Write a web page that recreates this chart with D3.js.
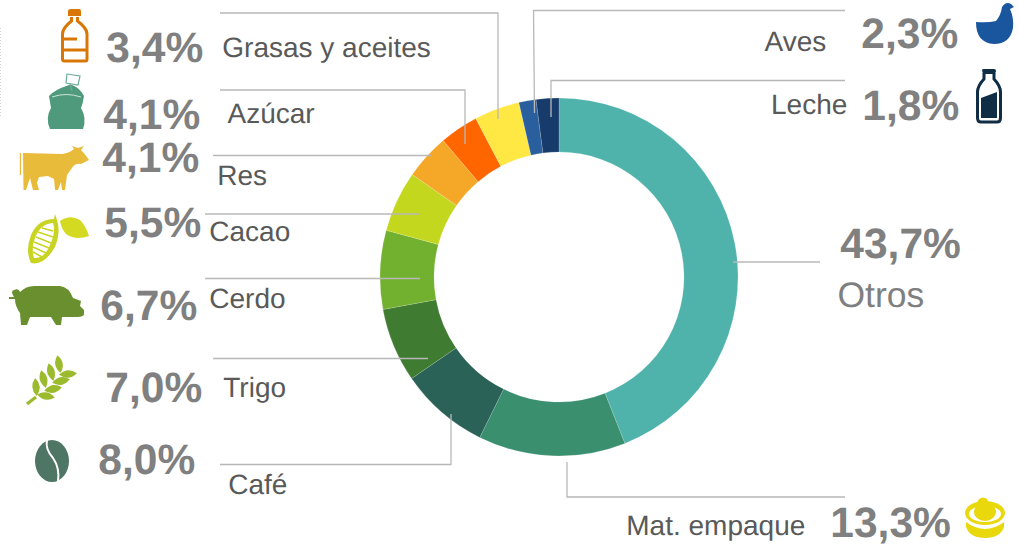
<!DOCTYPE html>
<html>
<head>
<meta charset="utf-8">
<script src="https://cdn.jsdelivr.net/npm/d3@7/dist/d3.min.js"></script>
<style>
html,body{margin:0;padding:0;background:#fff;overflow:hidden}
svg{display:block}
text{font-family:"Liberation Sans",Arial,sans-serif;text-rendering:geometricPrecision}
</style>
</head>
<body>
<svg id="chart" width="1019" height="546"></svg>
<script>
// ---- data ----
const categories = ["Otros","Mat. empaque","Café","Trigo","Cerdo","Cacao","Res","Azúcar","Grasas y aceites","Aves","Leche"];
// the percentages printed in the reference
const printedShares = [43.7,13.3,8.0,7.0,6.7,5.5,4.1,4.1,3.4,2.3,1.8];
// the slice sizes as actually drawn in the reference (measured from its slice boundaries)
const drawnShares = [44.0,13.3,8.1,6.7,7.1,5.5,4.1,3.5,4.1,1.55,2.05];
const palette = ["#4fb3ab","#3a8f6f","#2a6257","#3f7b30","#72b12f","#c4d71f","#f5a828","#ff6600","#ffe844","#2a5f9e","#173c6b"];

// ---- annotation layout (pixel placement only) ----
const nameAnchors  = [[837.5,307],[626.3,535],[228.3,494],[223.3,397],[209.3,308],[209.3,241],[217.3,185],[227.5,123],[222.3,57],[764.5,51],[771,114]];
const shareAnchors = [[840.3,258],[830.3,537],[98.3,474],[105.3,402],[100.3,320],[104.3,237],[102.3,172],[103.3,129],[106.3,62],[861.3,47.5],[862.3,120]];
const leaders = [
  [[733,262],[820,262]],
  [[567,462],[567,497],[845,497]],
  [[451,414],[451,464.5],[220,464.5]],
  [[428,358.5],[213,358.5]],
  [[420,278.5],[205,278.5]],
  [[420,214],[205,214]],
  [[431,155.5],[213,155.5]],
  [[465,144],[465,90],[220,90]],
  [[498,119],[498,13],[220,13]],
  [[534.5,113],[533.5,10.5],[845,10.5]],
  [[551,117],[551,80.5],[845,80.5]]
];

const svg = d3.select("#chart");
const fmt = d3.formatLocale({decimal:",",thousands:".",grouping:[3],currency:["","%"]}).format(".1f");
const color = d3.scaleOrdinal().domain(categories).range(palette);

// faint dotted remnant at the far left edge
svg.append("line").attr("x1",0.5).attr("x2",0.5).attr("y1",28).attr("y2",116)
  .attr("stroke","#d0d0d0").attr("stroke-dasharray","1 2");

// ---- donut ----
const pie = d3.pie().sort(null).value(d=>d.v);
const arc = d3.arc().innerRadius(125).outerRadius(179);
const rows = categories.map((c,i)=>({c,v:drawnShares[i]}));
svg.append("g").attr("transform","translate(559,277)")
  .selectAll("path").data(pie(rows)).join("path")
  .attr("d",arc).attr("fill",d=>color(d.data.c))
  .attr("stroke","#ffffff").attr("stroke-opacity",.25).attr("stroke-width",.6);

// ---- leaders ----
const lineGen = d3.line();
svg.append("g").selectAll("path").data(leaders).join("path")
  .attr("d",lineGen).attr("fill","none").attr("stroke","#b8b8b8").attr("stroke-width",1.3);

// ---- text ----
svg.append("g").selectAll("text").data(categories).join("text")
  .attr("x",(d,i)=>nameAnchors[i][0]).attr("y",(d,i)=>nameAnchors[i][1])
  .attr("font-size",d=>d==="Otros"?35.5:28)
  .attr("fill",d=>d==="Otros"?"#7f7f7f":"#595959")
  .text(d=>d);
svg.append("g").selectAll("text").data(printedShares).join("text")
  .attr("x",(d,i)=>shareAnchors[i][0]).attr("y",(d,i)=>shareAnchors[i][1])
  .attr("font-size",42.5).attr("font-weight",700).attr("fill","#808080")
  .text(d=>fmt(d)+"%");

// ---- pictograms ----
const ic = svg.append("g");
// bottle
ic.append("path").attr("d","M71.5 17 L71.5 21 Q62.5 28 62.5 34 L62.5 59 Q62.5 61 64.5 61 L85.5 61 Q87 61 87 59 L87 34 Q87 28 77.5 21 L77.5 17 M62 39 L77 39 M62 50 L87 50")
  .attr("fill","none").attr("stroke","#d97706").attr("stroke-width",3);
ic.append("path").attr("d","M68 16 L68 11 Q68 9 71 9 L79 9 Q81 9 81 11 L81 16 Z").attr("fill","#d97706");
// sack
ic.append("path").attr("d","M49 96 Q54 90 69 85 L72 85 Q80 88 84 96 Q83 103 81 108 Q87 118 83 129 L50 129 Q45 118 51 108 Q50 102 49 96 Z").attr("fill","#4f9a7d");
ic.append("path").attr("d","M52 97 Q66 92 81 97").attr("fill","none").attr("stroke","#cfe4da").attr("stroke-width",1);
ic.append("path").attr("d","M67 74 L80 76 L78 85 L66 83 Z M70 84 L72 91").attr("fill","#fff").attr("stroke","#6fae96").attr("stroke-width",1.2);
// cow
ic.append("path").attr("d","M23 153 L62 154 Q70 153 74 149 L72 146 L78 148 L84 146 L81 150 Q85 154 89 160 L81 164 Q75 163 72 168 L67 175 L65 190 L62 190 L61 182 L58 190 L55 190 L54 179 L48 176 L39 177 L37 183 L39 190 L33 190 L30 178 L26 190 L23.5 190 Z").attr("fill","#e8bb3a");
ic.append("path").attr("d","M20.5 153 L20.5 175").attr("stroke","#e8bb3a").attr("stroke-width",1.3);
// cacao
ic.append("path").attr("d","M55 214 L57 220 Q61 232 55 247 Q44 266 31 263 Q25 251 31 235 Q38 219 54 219 Z").attr("fill","#c9d422");
ic.append("path").attr("d","M53 223 Q40 224 35 238 Q31 248 34 258 Q44 259 50 245 Q56 232 53 223 Z").attr("fill","#fff");
ic.append("path").attr("d","M42 228 L53 231 M38 232 L53 237 M36 237 L51 243 M34 242 L49 248 M33 247 L46 253 M33 252 L42 257").attr("stroke","#c9d422").attr("stroke-width",1.5).attr("fill","none");
ic.append("path").attr("d","M60 221 Q70 214 80 220 Q86 226 89 236 Q76 241 66 234 Q61 228 60 221 Z").attr("fill","#d4d922");
// pig
ic.append("path").attr("d","M9 297 L14 297 Q10 291 14 290 Q19 288 20 292 Q26 286 34 286 L60 286 Q69 287 73 298 L81 301 L80 306 L84 310 L84 315 Q82 317 78 317 L62 317 L61 325 L56 325 L51 317 L30 317 L27 325 L21 325 L20 313 Q15 306 15 299 L9 299 Z").attr("fill","#6a8f2e");
// wheat
function leaf(cx,cy,len,wid,a){
  const p = d3.path(); p.moveTo(-len,0); p.quadraticCurveTo(0,-wid,len,0); p.quadraticCurveTo(0,wid,-len,0);
  ic.append("path").attr("d",p.toString()).attr("transform",`translate(${cx},${cy}) rotate(${a})`).attr("fill","#9bba2e");
}
[[59,364,9,7.5,80],[51,372,9,7.5,75],[43.5,379,9,7.5,75],[36,387,9,7.5,85],
 [68,374,9,7.5,-5],[61,381,9,7.5,-12],[53,389,9,7.5,-12],[46,396,9,7.5,10]].forEach(e=>leaf(...e));
ic.append("path").attr("d","M27 404 L36 397").attr("stroke","#9bba2e").attr("stroke-width",3.2).attr("fill","none");
// coffee bean
ic.append("ellipse").attr("cx",52).attr("cy",461).attr("rx",17).attr("ry",21).attr("fill","#4f7565");
ic.append("path").attr("d","M47 440 Q45 449 53 458 Q60 468 58 482").attr("fill","none").attr("stroke","#fff").attr("stroke-width",2);
// hen
ic.append("path").attr("d","M976 22 Q988 23 996 21 Q1001 15 1002 7 Q1006 1 1011 4 L1014 7 L1010 9 Q1014 18 1013 28 Q1010 44 994 44 Q976 43 976 22 Z").attr("fill","#1a569e");
// milk bottle
ic.append("path").attr("d","M984 73 L984 79 Q977.5 86 977.5 92 L977.5 118 Q977.5 122 981 122 L997 122 Q1000.5 122 1000.5 118 L1000.5 92 Q1000.5 86 994 79 L994 73").attr("fill","#fff").attr("stroke","#0f2e45").attr("stroke-width",3);
ic.append("path").attr("d","M982 70 Q982 69 984 69 L994 69 Q996 69 996 71 L995 74 L983 74 Z").attr("fill","#0f2e45");
ic.append("path").attr("d","M981 98 L997 92 L997 118 L981 118 Z").attr("fill","#0f2e45");
// can
ic.append("path").attr("d","M966 522 Q985 536 1004 522 L1004 527 Q1000 538 985 538 Q970 538 966 527 Z").attr("fill","#e8d80c");
ic.append("ellipse").attr("cx",985).attr("cy",513).attr("rx",20).attr("ry",12).attr("fill","#e8d80c");
ic.append("ellipse").attr("cx",985).attr("cy",514).attr("rx",16).attr("ry",8).attr("fill","#fff");
ic.append("ellipse").attr("cx",985).attr("cy",512).attr("rx",11).attr("ry",9).attr("fill","#e8d80c");
ic.append("circle").attr("cx",983).attr("cy",503).attr("r",5.5).attr("fill","#e8d80c");
</script>
</body>
</html>
